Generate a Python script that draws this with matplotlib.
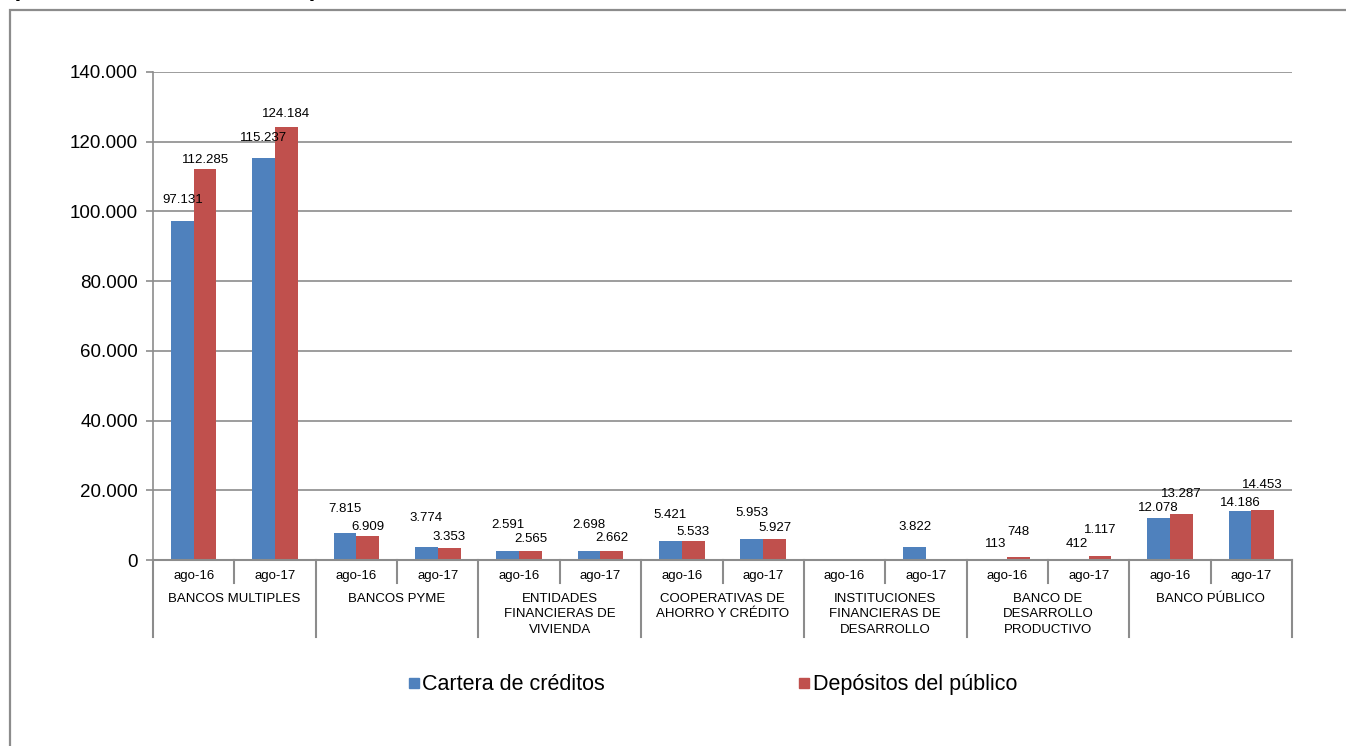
import matplotlib
matplotlib.use("Agg")
import matplotlib.pyplot as plt
from matplotlib.patches import Rectangle
from matplotlib.lines import Line2D
from matplotlib.ticker import FuncFormatter, MultipleLocator

plt.rcParams["font.family"] = ["Liberation Sans", "DejaVu Sans"]

# Data (millones de bolivianos)
groups = [
    "BANCOS MULTIPLES",
    "BANCOS PYME",
    "ENTIDADES\nFINANCIERAS DE\nVIVIENDA",
    "COOPERATIVAS DE\nAHORRO Y CRÉDITO",
    "INSTITUCIONES\nFINANCIERAS DE\nDESARROLLO",
    "BANCO DE\nDESARROLLO\nPRODUCTIVO",
    "BANCO PÚBLICO",
]
periods = ["ago-16", "ago-17"]
cartera = [97131, 115237, 7815, 3774, 2591, 2698, 5421, 5953, None, 3822, 113, 412, 12078, 14186]
depositos = [112285, 124184, 6909, 3353, 2565, 2662, 5533, 5927, None, None, 748, 1117, 13287, 14453]

# label lift above bar tops (pixels), as placed in the original
lift_cartera = [21, 20, 24, 29, 26, 26, 26, 26, 0, 20, 16, 15, 10, 8]
lift_depositos = [9, 13, 9, 11, 12, 13, 9, 11, 0, 0, 25, 26, 20, 25]

BLUE = "#4F81BD"
RED = "#C0504D"
GRID = "#8C8C8C"


def fmt_thousands(v, pos=None):
    return f"{int(v):,}".replace(",", ".")


fig = plt.figure(figsize=(13.46, 7.46), dpi=100)
ax = fig.add_axes([0.1137, 0.2493, 0.8462, 0.6542])

n = len(cartera)
w = 0.28
for i in range(n):
    if cartera[i] is not None:
        ax.bar(i - w / 2, cartera[i], width=w, color=BLUE, zorder=3)
        ax.annotate(fmt_thousands(cartera[i]), (i - w / 2, cartera[i]),
                    xytext=(0, lift_cartera[i]), textcoords="offset pixels",
                    ha="center", va="center", fontsize=9.5, zorder=5)
    if depositos[i] is not None:
        ax.bar(i + w / 2, depositos[i], width=w, color=RED, zorder=3)
        ax.annotate(fmt_thousands(depositos[i]), (i + w / 2, depositos[i]),
                    xytext=(0, lift_depositos[i]), textcoords="offset pixels",
                    ha="center", va="center", fontsize=9.5, zorder=5)

ax.set_xlim(-0.5, n - 0.5)
ax.set_ylim(0, 140000)
ax.yaxis.set_major_locator(MultipleLocator(20000))
ax.yaxis.set_major_formatter(FuncFormatter(fmt_thousands))
ax.tick_params(axis="y", labelsize=13.5, length=5, width=1.2, color=GRID, pad=6)
ax.set_xticks([])
ax.grid(axis="y", color=GRID, lw=1.2, zorder=0)
for s in ["top", "right"]:
    ax.spines[s].set_visible(False)
ax.spines["left"].set_color(GRID)
ax.spines["left"].set_linewidth(1.2)
ax.spines["bottom"].set_color(GRID)
ax.spines["bottom"].set_linewidth(1.5)
ax.spines["bottom"].set_zorder(4)

# category axis: periods and groups
trans = ax.get_xaxis_transform()
for i in range(n):
    ax.text(i, -0.032, periods[i % 2], transform=trans, ha="center", va="center", fontsize=9.5)
for g, name in enumerate(groups):
    ax.text(2 * g + 0.5, -0.067, name, transform=trans, ha="center", va="top",
            fontsize=9.5, linespacing=1.38)
for k in range(n + 1):
    ybot = -0.158 if k % 2 == 0 else -0.047
    ax.plot([k - 0.5, k - 0.5], [0, ybot], transform=trans, color=GRID, lw=1.5, clip_on=False)

# legend
handles = [
    Line2D([], [], marker="s", ls="", color=BLUE, markersize=7),
    Line2D([], [], marker="s", ls="", color=RED, markersize=7),
]
fig.legend(handles, ["Cartera de créditos", "Depósitos del público"], loc="center",
           bbox_to_anchor=(0.5295, 0.0818), ncol=2, frameon=False, fontsize=15.5,
           handlelength=0.5, handletextpad=0.15, columnspacing=9.0)

# outer chart frame and cut-off title
fig.add_artist(Rectangle((10 / 1346, -0.2), 1.2, 1.2 - 10 / 746, transform=fig.transFigure,
                         fill=False, ec=GRID, lw=1.6))
fig.text(12 / 1346, 1 + 4 / 746, "(En millones de bolivianos)", fontsize=17,
         fontweight="bold", ha="left", va="baseline")

fig.savefig("out.png", dpi=100)
